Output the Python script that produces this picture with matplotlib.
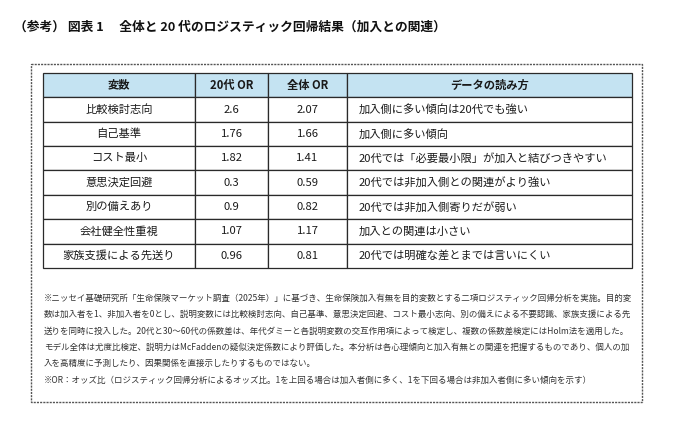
import matplotlib
matplotlib.use('Agg')
import matplotlib.pyplot as plt
from matplotlib.patches import Rectangle

plt.rcParams['font.family'] = ['Noto Sans CJK JP', 'DejaVu Sans']

title = '（参考） 図表 1　 全体と 20 代のロジスティック回帰結果（加入との関連）'

columns = ['変数', '20代 OR', '全体 OR', 'データの読み方']
variables = ['比較検討志向', '自己基準', 'コスト最小', '意思決定回避',
             '別の備えあり', '会社健全性重視', '家族支援による先送り']
or_20s = [2.6, 1.76, 1.82, 0.3, 0.9, 1.07, 0.96]
or_all = [2.07, 1.66, 1.41, 0.59, 0.82, 1.17, 0.81]
readings = ['加入側に多い傾向は20代でも強い',
            '加入側に多い傾向',
            '20代では「必要最小限」が加入と結びつきやすい',
            '20代では非加入側との関連がより強い',
            '20代では非加入側寄りだが弱い',
            '加入との関連は小さい',
            '20代では明確な差とまでは言いにくい']

notes = [
    '※ニッセイ基礎研究所「生命保険マーケット調査（2025年）」に基づき、生命保険加入有無を目的変数とする二項ロジスティック回帰分析を実施。目的変',
    '数は加入者を1、非加入者を0とし、説明変数には比較検討志向、自己基準、意思決定回避、コスト最小志向、別の備えによる不要認識、家族支援による先',
    '送りを同時に投入した。20代と30～60代の係数差は、年代ダミーと各説明変数の交互作用項によって検定し、複数の係数差検定にはHolm法を適用した。',
    'モデル全体は尤度比検定、説明力はMcFaddenの疑似決定係数により評価した。本分析は各心理傾向と加入有無との関連を把握するものであり、個人の加',
    '入を高精度に予測したり、因果関係を直接示したりするものではない。',
    '※OR：オッズ比（ロジスティック回帰分析によるオッズ比。1を上回る場合は加入者側に多く、1を下回る場合は非加入者側に多い傾向を示す）',
]

W, H = 680, 424
fig = plt.figure(figsize=(W / 100, H / 100), dpi=100)
ax = fig.add_axes([0, 0, 1, 1])
ax.set_xlim(0, W)
ax.set_ylim(H, 0)
ax.axis('off')

ax.text(14, 27, title, fontsize=9.2, fontweight='bold', va='center', ha='left', color='#111')

# dotted frame
ax.add_patch(Rectangle((31, 64), 611, 338, fill=False, edgecolor='#555555',
                       linewidth=1.0, linestyle=(0, (1.5, 0.8))))

# table
cell_text = [[v, f'{a:g}', f'{b:g}', r] for v, a, b, r in zip(variables, or_20s, or_all, readings)]
col_w = [152, 73, 79, 285]
tot = sum(col_w)
x0, x1, y0, y1 = 43, 632, 73, 268
tbl = ax.table(cellText=cell_text, colLabels=columns,
               colWidths=[c / tot for c in col_w],
               bbox=[x0 / W, 1 - y1 / H, (x1 - x0) / W, (y1 - y0) / H],
               cellLoc='center')
tbl.auto_set_font_size(False)
tbl.set_fontsize(8.1)
for (r, c), cell in tbl.get_celld().items():
    cell.set_edgecolor('#2a2a2a')
    cell.set_linewidth(0.9)
    txt = cell.get_text()
    txt.set_color('#1a1a1a')
    if r == 0:
        cell.set_facecolor('#c4e3f2')
        txt.set_fontweight('bold')
    elif c == 3:
        cell.PAD = 0.04
        cell._loc = 'left'
        txt.set_ha('left')

# notes
for i, line in enumerate(notes):
    ax.text(44, 298 + i * 16.4, line, fontsize=6.12, va='center', ha='left', color='#333')

fig.savefig('out.png', dpi=100)
